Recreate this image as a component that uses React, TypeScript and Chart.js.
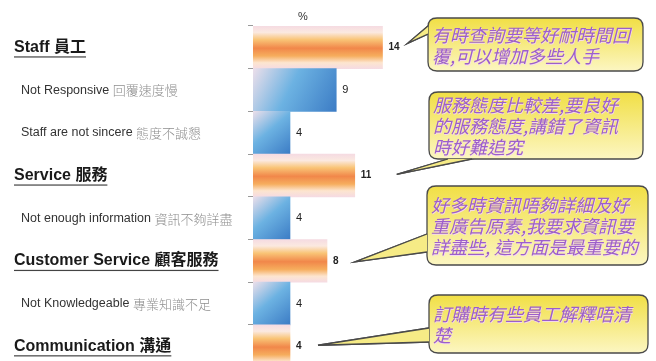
import React, { useEffect, useRef } from "react";
import Chart from "chart.js/auto";

const labelsEn = [
  "Staff",
  "Not Responsive",
  "Staff are not sincere",
  "Service",
  "Not enough information",
  "Customer Service",
  "Not Knowledgeable",
  "Communication",
];
const labelsZh = ["員工", "回覆速度慢", "態度不誠懇", "服務", "資訊不夠詳盡", "顧客服務", "專業知識不足", "溝通"];
const isMain = [true, false, false, true, false, true, false, true];
const values = [14, 9, 4, 11, 4, 8, 4, 4];
const unitLabel = "%";

const calloutTexts = [
  ["有時查詢要等好耐時間回", "覆,可以增加多些人手"],
  ["服務態度比較差,要良好", "的服務態度,講錯了資訊", "時好難追究"],
  ["好多時資訊唔夠詳細及好", "重廣告原素,我要求資訊要", "詳盡些, 這方面是最重要的"],
  ["訂購時有些員工解釋唔清", "楚"],
];
const calloutTargets = [0, 3, 5, 7];

// layout of the callout boxes (pixels)
const calloutBoxes = [
  { x: 428, y: 18, w: 215, h: 53, tipDx: 25, tipDy: -4, base: [[428, 26], [428, 34]] },
  { x: 429, y: 92, w: 214, h: 67, tipDx: 42, tipDy: -1, base: [[448, 159], [472, 159]] },
  { x: 427, y: 186, w: 221, h: 79, tipDx: 28, tipDy: 1, base: [[427, 234], [427, 252]] },
  { x: 429, y: 295, w: 219, h: 58, tipDx: 28, tipDy: -1, base: [[429, 328], [429, 342]] },
];

const SANS = '"Liberation Sans", Arial, "Noto Sans CJK TC", sans-serif';
const CJK = '"Noto Sans CJK TC", "Noto Sans CJK SC", sans-serif';

function roundRect(ctx: CanvasRenderingContext2D, x: number, y: number, w: number, h: number, r: number) {
  ctx.moveTo(x + r, y);
  ctx.lineTo(x + w - r, y);
  ctx.quadraticCurveTo(x + w, y, x + w, y + r);
  ctx.lineTo(x + w, y + h - r);
  ctx.quadraticCurveTo(x + w, y + h, x + w - r, y + h);
  ctx.lineTo(x + r, y + h);
  ctx.quadraticCurveTo(x, y + h, x, y + h - r);
  ctx.lineTo(x, y + r);
  ctx.quadraticCurveTo(x, y, x + r, y);
}

const decorPlugin = {
  id: "decor",
  afterDraw(chart: any) {
    const ctx: CanvasRenderingContext2D = chart.ctx;
    const xs = chart.scales.x;
    const ys = chart.scales.y;
    ctx.save();
    // unit label
    ctx.font = `11px ${SANS}`;
    ctx.fillStyle = "#333";
    ctx.textAlign = "center";
    ctx.textBaseline = "middle";
    ctx.fillText(unitLabel, 303, 16.5);

    // category labels
    ctx.textAlign = "left";
    labelsEn.forEach((en, i) => {
      const y = ys.getPixelForValue(i);
      if (isMain[i]) {
        ctx.font = `bold 16px ${SANS}`;
        const t = en + " " + labelsZh[i];
        ctx.fillStyle = "#1a1a1a";
        ctx.fillText(t, 14, y);
        const w = ctx.measureText(t).width;
        ctx.fillStyle = "#444";
        ctx.fillRect(14, y + 9, w, 1.2);
      } else {
        ctx.font = `12.5px ${SANS}`;
        ctx.fillStyle = "#333";
        const t = en + " ";
        ctx.fillText(t, 21, y);
        const w = ctx.measureText(t).width;
        ctx.fillStyle = "#8f8f8f";
        ctx.font = `300 13px ${CJK}`;
        ctx.fillText(labelsZh[i], 21 + w, y + 0.5);
      }
    });

    // value labels
    values.forEach((v, i) => {
      const y = ys.getPixelForValue(i);
      const x = xs.getPixelForValue(v) + 6;
      ctx.font = isMain[i] ? `bold 10px ${SANS}` : `11px ${SANS}`;
      ctx.fillStyle = "#222";
      ctx.fillText(String(v), x, y);
    });

    // callouts
    calloutBoxes.forEach((b, k) => {
      const idx = calloutTargets[k];
      const tipX = xs.getPixelForValue(values[idx]) + b.tipDx;
      const tipY = ys.getPixelForValue(idx) + b.tipDy;
      const grad = ctx.createLinearGradient(0, b.y, 0, b.y + b.h);
      grad.addColorStop(0, "#f1df45");
      grad.addColorStop(1, "#fcf6c2");
      // pointer
      ctx.beginPath();
      ctx.moveTo(b.base[0][0], b.base[0][1]);
      ctx.lineTo(tipX, tipY);
      ctx.lineTo(b.base[1][0], b.base[1][1]);
      ctx.closePath();
      ctx.fillStyle = "#f6eb86";
      ctx.fill();
      ctx.strokeStyle = "#4a4a4a";
      ctx.lineWidth = 1.3;
      ctx.stroke();
      // box
      ctx.beginPath();
      roundRect(ctx, b.x, b.y, b.w, b.h, 9);
      ctx.fillStyle = grad;
      ctx.fill();
      ctx.stroke();
      // cover the seam of the pointer
      ctx.beginPath();
      ctx.moveTo(b.base[0][0], b.base[0][1]);
      ctx.lineTo(tipX, tipY);
      ctx.lineTo(b.base[1][0], b.base[1][1]);
      ctx.closePath();
      ctx.save();
      ctx.clip();
      ctx.fillStyle = "#f6eb86";
      ctx.fillRect(0, 0, 656, 370);
      ctx.restore();
      ctx.beginPath();
      ctx.moveTo(b.base[0][0], b.base[0][1]);
      ctx.lineTo(tipX, tipY);
      ctx.lineTo(b.base[1][0], b.base[1][1]);
      ctx.stroke();
      // text
      ctx.font = `italic 18px ${CJK}`;
      ctx.textBaseline = "middle";
      ctx.textAlign = "left";
      const lines = calloutTexts[k];
      const lh = 21;
      const startY = b.y + b.h / 2 - ((lines.length - 1) * lh) / 2 + 1;
      lines.forEach((ln, j) => {
        ctx.fillStyle = "rgba(245,215,245,0.9)";
        ctx.fillText(ln, b.x + 4.6, startY + j * lh + 0.9);
        ctx.fillStyle = "#9c5fca";
        ctx.fillText(ln, b.x + 4, startY + j * lh);
      });
    });
    ctx.restore();
  },
};

export default function App() {
  const ref = useRef<HTMLCanvasElement | null>(null);
  useEffect(() => {
    if (!ref.current) return;
    const chart = new Chart(ref.current, {
      type: "bar",
      data: {
        labels: labelsEn,
        datasets: [
          {
            data: values,
            barPercentage: 1,
            categoryPercentage: 1,
            borderWidth: 0,
            backgroundColor: (c: any) => {
              const ch = c.chart;
              const xs = ch.scales.x;
              const ys = ch.scales.y;
              const i = c.dataIndex;
              if (!ch.chartArea || !xs || !ys || i === undefined) return "#f2884a";
              const slot = (ch.chartArea.bottom - ch.chartArea.top) / values.length;
              const yc = ys.getPixelForValue(i);
              const top = yc - slot / 2;
              const bot = yc + slot / 2;
              const ctx = ch.ctx;
              if (isMain[i]) {
                const g = ctx.createLinearGradient(0, top, 0, bot);
                g.addColorStop(0, "#f5dbe2");
                g.addColorStop(0.15, "#fbe9e0");
                g.addColorStop(0.32, "#f9c476");
                g.addColorStop(0.52, "#f1874a");
                g.addColorStop(0.7, "#f6ad5d");
                g.addColorStop(0.86, "#fde5cf");
                g.addColorStop(1, "#f5dbe2");
                return g;
              }
              const x0 = xs.getPixelForValue(0);
              const x1 = xs.getPixelForValue(values[i]);
              const g = ctx.createLinearGradient(x0, top, x1, bot);
              g.addColorStop(0, "#ecdfea");
              g.addColorStop(0.45, "#6cb2e2");
              g.addColorStop(1, "#3c7cc5");
              return g;
            },
          },
        ],
      },
      options: {
        indexAxis: "y",
        animation: false,
        responsive: false,
        maintainAspectRatio: false,
        layout: { padding: { top: 26, bottom: 2.4, right: 33, left: 0 } },
        plugins: { legend: { display: false }, tooltip: { enabled: false } },
        scales: {
          x: { display: false, min: 0, max: 40 },
          y: {
            display: true,
            ticks: { display: false },
            grid: {
              display: true,
              drawOnChartArea: false,
              drawTicks: true,
              tickLength: 5,
              offset: true,
              color: "#9a9a9a",
            },
            border: { display: true, color: "#9a9a9a", width: 1 },
            afterFit: (s: any) => {
              s.width = 253;
            },
          },
        },
      },
      plugins: [decorPlugin],
    });
    return () => chart.destroy();
  }, []);
  return (
    <div
      style={{
        position: "fixed",
        left: 0,
        top: 0,
        width: 656,
        height: 361,
        overflow: "hidden",
        background: "#fff",
      }}
    >
      <canvas ref={ref} width={656} height={370} style={{ width: 656, height: 370, display: "block" }} />
    </div>
  );
}
